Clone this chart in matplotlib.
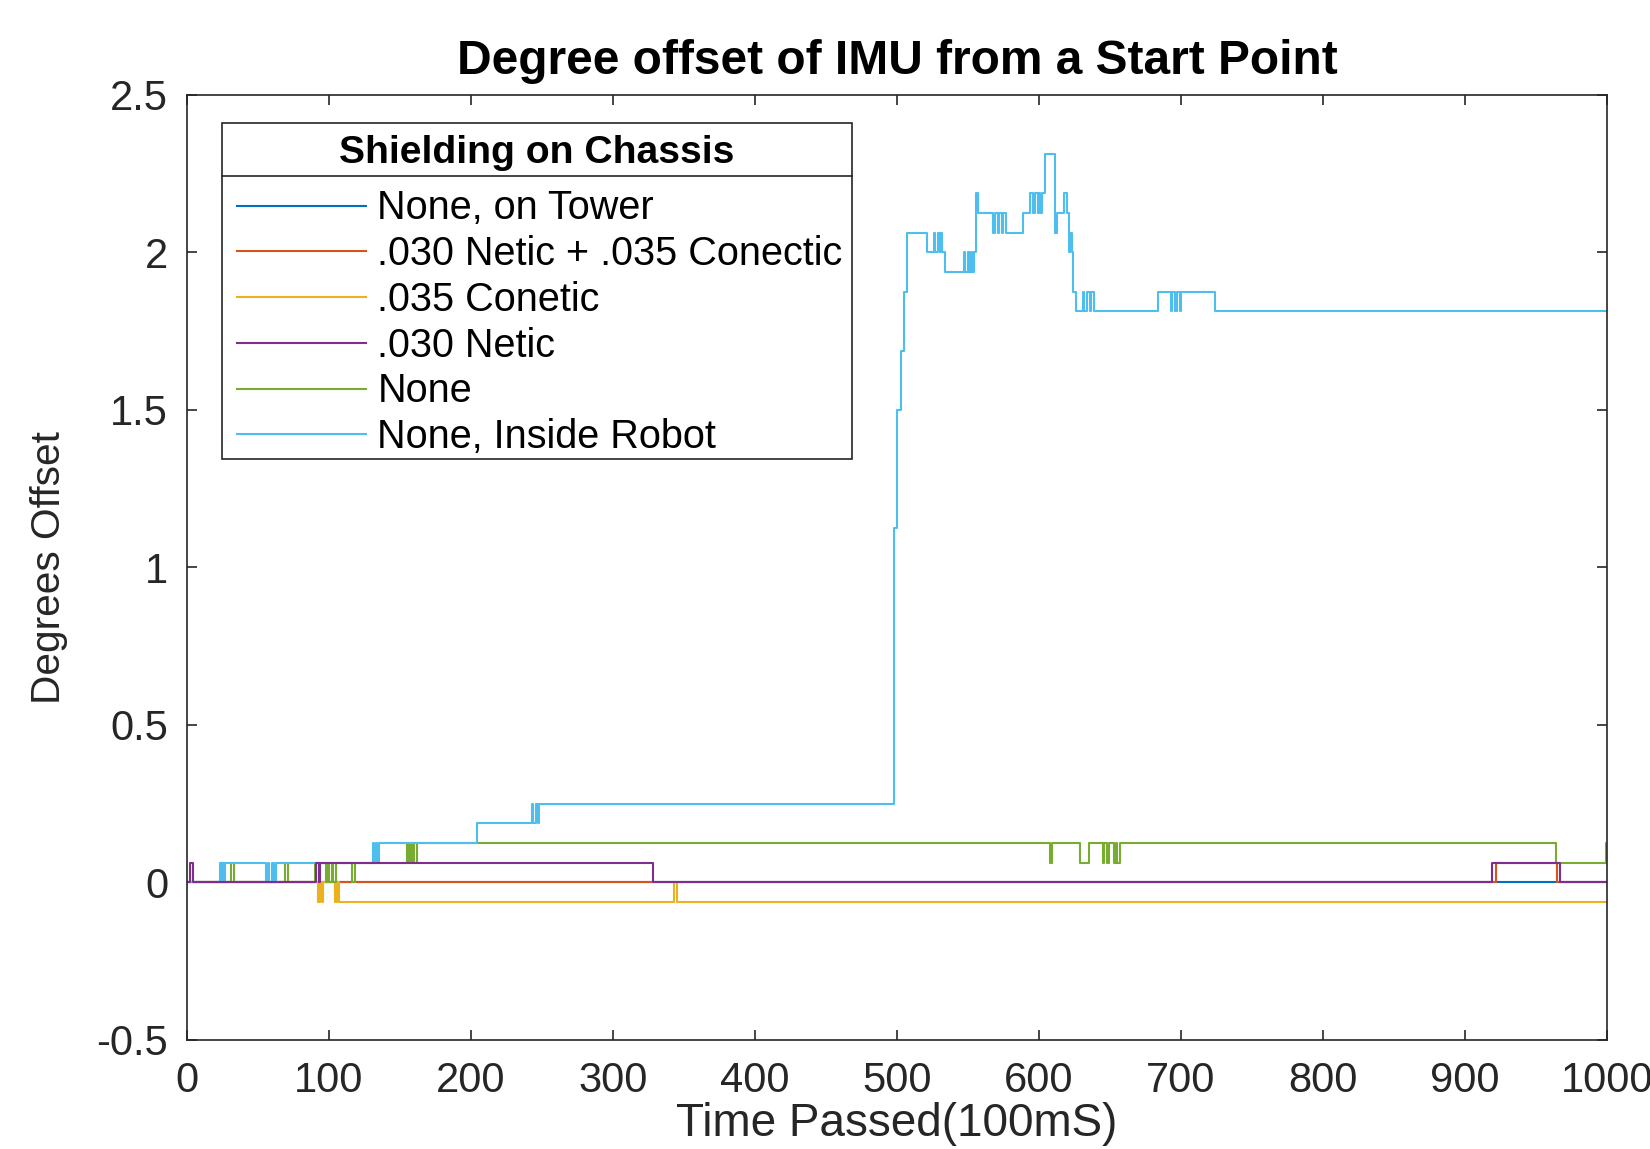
import matplotlib.pyplot as plt
from matplotlib.patches import Rectangle


OUTPUT_FILE = "out.png"

TITLE = "Degree offset of IMU from a Start Point"
X_LABEL = "Time Passed(100mS)"
Y_LABEL = "Degrees Offset"
LEGEND_TITLE = "Shielding on Chassis"

XTICKS = [0, 100, 200, 300, 400, 500, 600, 700, 800, 900, 1000]
XTICK_LABELS = ["0", "100", "200", "300", "400", "500", "600", "700", "800", "900", "1000"]
YTICKS = [-0.5, 0, 0.5, 1, 1.5, 2, 2.5]
YTICK_LABELS = ["-0.5", "0", "0.5", "1", "1.5", "2", "2.5"]

# each series is stored as (sample where the value changes, new value)
TOWER_X = [0, 1000]
TOWER_Y = [0, 0]

NETIC_CONECTIC_X = [0, 922, 965, 1000]
NETIC_CONECTIC_Y = [0, 0.0625, 0, 0]

CONETIC_X = [0, 92, 94, 95, 96, 104, 106, 107, 343, 345, 1000]
CONETIC_Y = [0, -0.0625, 0, -0.0625, 0, -0.0625, 0, -0.0625, 0, -0.0625, -0.0625]

NETIC_X = [0, 2, 4, 91, 93, 94, 328, 919, 967, 1000]
NETIC_Y = [0, 0.0625, 0, 0.0625, 0, 0.0625, 0, 0.0625, 0, 0]

NONE_X = [0, 31, 33, 69, 71, 90, 98, 99, 100, 102, 103, 105, 116, 118,
          155, 156, 157, 158, 159, 160, 162,
          608, 609, 629, 635,
          645, 646, 648, 649, 653, 654, 655, 657,
          964, 999, 1000]
NONE_Y = [0, 0.0625, 0, 0.0625, 0, 0.0625, 0, 0.0625, 0, 0.0625, 0, 0.0625, 0, 0.0625,
          0.125, 0.0625, 0.125, 0.0625, 0.125, 0.0625, 0.125,
          0.0625, 0.125, 0.0625, 0.125,
          0.0625, 0.125, 0.0625, 0.125, 0.0625, 0.125, 0.0625, 0.125,
          0.0625, 0.125, 0.125]

INSIDE_X = [0, 23, 24, 25, 26, 27, 56, 57, 58, 60, 61, 63,
            131, 132, 133, 134, 135, 204, 243, 244, 246, 247, 248,
            498, 500, 503, 505, 507,
            521, 526, 527, 529, 530, 531, 532, 534,
            547, 548, 550, 551, 552, 553, 554, 556, 557,
            568, 569, 571, 572, 574, 575, 577,
            589, 594, 596, 597, 599, 600, 601, 602, 604,
            611, 613, 618, 620, 621, 622, 623, 624, 626,
            631, 632, 634, 636, 637, 639,
            684, 693, 694, 696, 697, 699, 700, 724, 1000]
INSIDE_Y = [0, 0.0625, 0, 0.0625, 0, 0.0625, 0, 0.0625, 0, 0.0625, 0, 0.0625,
            0.125, 0.0625, 0.125, 0.0625, 0.125, 0.1875, 0.25, 0.1875, 0.25, 0.1875, 0.25,
            1.125, 1.5, 1.6875, 1.875, 2.0625,
            2.0, 2.0625, 2.0, 2.0625, 2.0, 2.0625, 2.0, 1.9375,
            2.0, 1.9375, 2.0, 1.9375, 2.0, 1.9375, 2.0, 2.1875, 2.125,
            2.0625, 2.125, 2.0625, 2.125, 2.0625, 2.125, 2.0625,
            2.125, 2.1875, 2.125, 2.1875, 2.125, 2.1875, 2.125, 2.1875, 2.3125,
            2.0625, 2.125, 2.1875, 2.125, 2.0, 2.0625, 2.0, 1.875, 1.8125,
            1.875, 1.8125, 1.875, 1.8125, 1.875, 1.8125,
            1.875, 1.8125, 1.875, 1.8125, 1.875, 1.8125, 1.875, 1.8125, 1.8125]

SERIES = [
    ("None, on Tower", TOWER_X, TOWER_Y, "#0072BD", 2.0),
    (".030 Netic + .035 Conectic", NETIC_CONECTIC_X, NETIC_CONECTIC_Y, "#D95319", 2.1),
    (".035 Conetic", CONETIC_X, CONETIC_Y, "#EDB120", 2.2),
    (".030 Netic", NETIC_X, NETIC_Y, "#7E2F8E", 2.5),
    ("None", NONE_X, NONE_Y, "#77AC30", 2.3),
    ("None, Inside Robot", INSIDE_X, INSIDE_Y, "#4DBEEE", 2.4),
]

AXIS_COLOR = "#262626"


def plot_offsets():
    plt.rcParams["font.family"] = ["Liberation Sans", "DejaVu Sans"]

    fig = plt.figure(figsize=(11, 7.66), dpi=150)
    ax = fig.add_axes([0.1133, 0.0949, 0.8606, 0.8227])

    handles = []
    for label, xs, ys, color, z in SERIES:
        (line,) = ax.plot(xs, ys, drawstyle="steps-post", color=color,
                          linewidth=1.0, label=label, zorder=z)
        handles.append(line)

    ax.set_xlim(0, 1000)
    ax.set_ylim(-0.5, 2.5)
    ax.set_xticks(XTICKS, XTICK_LABELS)
    ax.set_yticks(YTICKS, YTICK_LABELS)
    ax.tick_params(direction="in", top=True, right=True, length=4.8, width=0.8,
                   pad=9, labelsize=20, colors=AXIS_COLOR)
    ax.tick_params(axis="x", pad=10)
    for spine in ax.spines.values():
        spine.set_linewidth(0.8)
        spine.set_color(AXIS_COLOR)

    ax.set_title(TITLE, fontsize=23, fontweight="bold", pad=10, color="black")
    ax.set_xlabel(X_LABEL, fontsize=22, color=AXIS_COLOR, va="top")
    ax.xaxis.set_label_coords(0.5, -0.066)
    ax.set_ylabel(Y_LABEL, fontsize=19.5, color=AXIS_COLOR)
    ax.yaxis.set_label_coords(-0.084, 0.5)

    # legend box with a header row, like the MATLAB one
    box_left, box_right = 0.0246, 0.468
    box_bottom, box_top = 0.6146, 0.970
    sep_y = 0.9143
    ax.add_patch(Rectangle((box_left, box_bottom), box_right - box_left,
                           box_top - box_bottom, transform=ax.transAxes,
                           facecolor="white", edgecolor=AXIS_COLOR,
                           linewidth=0.8, zorder=4))
    ax.plot([box_left, box_right], [sep_y, sep_y], transform=ax.transAxes,
            color=AXIS_COLOR, linewidth=0.8, zorder=4.5)
    ax.text((box_left + box_right) / 2, 0.938, LEGEND_TITLE,
            transform=ax.transAxes, ha="center", va="center",
            fontsize=18.8, fontweight="bold", zorder=5)

    legend = ax.legend(handles=handles, loc="upper left",
                       bbox_to_anchor=(0.0352, 0.8998), frameon=False,
                       borderpad=0, borderaxespad=0, handlelength=3.26,
                       handletextpad=0.29, labelspacing=0.196, fontsize=19)
    legend.set_zorder(5)

    fig.savefig(OUTPUT_FILE, dpi=150)
    print(f"Saved plot to: {OUTPUT_FILE}")


def main():
    plot_offsets()


if __name__ == "__main__":
    main()
